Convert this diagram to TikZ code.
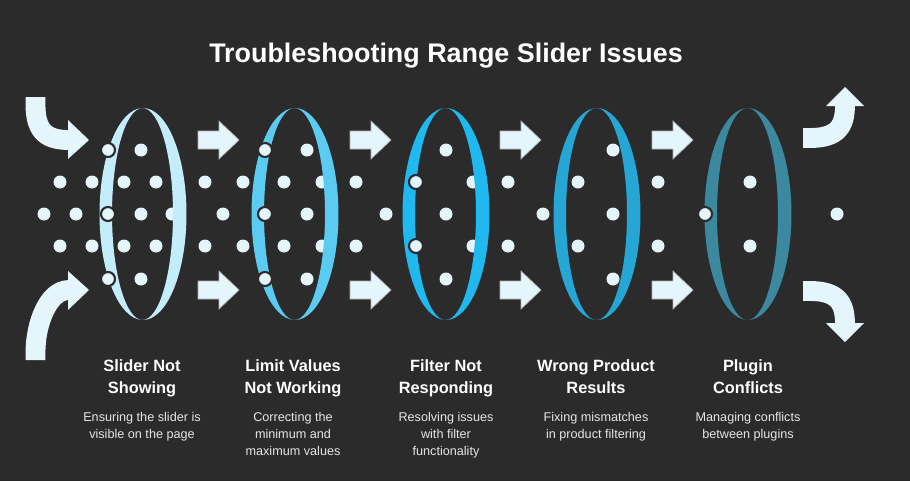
\documentclass[tikz,border=0pt]{standalone}
\usepackage{fontspec}
\setmainfont{Liberation Sans}
\usetikzlibrary{calc}
\definecolor{bg}{HTML}{2B2B2B}
\definecolor{dotc}{HTML}{E4F5FC}
\definecolor{ringA}{HTML}{C4EDFB}
\definecolor{ringB}{HTML}{5CCBF1}
\definecolor{ringC}{HTML}{1FB9EF}
\definecolor{ringD}{HTML}{25A6D5}
\definecolor{ringE}{HTML}{3B889F}
\tikzset{
  dot/.style={fill=dotc},
  odot/.style={fill=dotc,draw=bg,line width=1.2pt},
  blockarrow/.style={fill=dotc,draw=gray!60,line width=.4pt},
  bendarrow/.style={draw=dotc,line width=11.3pt},
  head/.style={font=\bfseries\fontsize{9.3}{12.5}\selectfont,text=white,align=center},
  desc/.style={font=\fontsize{7.2}{9.7}\selectfont,text=white!90!black,align=center}
}
\begin{document}
\begin{tikzpicture}[x=0.02cm,y=-0.02cm]
  \fill[bg] (0,0) rectangle (910,481);
  \useasboundingbox (0,0) rectangle (910,481);
  \node[font=\bfseries\fontsize{15.3}{17}\selectfont,text=white] (title) at (446,56) {Troubleshooting Range Slider Issues};
  % Punkte
  \foreach \x/\y in {141/150,60/182,92/182,124/182,156/182,44/214,76/214,141/214,172/214,
    60/246,92/246,124/246,156/246,141/279,205/182,243/182,223/214,205/246,243/246,
    307/150,284/182,322/182,307/214,284/246,322/246,307/279,356/182,386/214,356/246,
    446/150,473/182,446/214,473/246,446/279,508/182,543/214,508/246,
    613/150,578/182,613/214,578/246,613/279,658/182,658/246,750/182,750/246,837/214}
    \fill[dot] (\x,\y) circle[radius=0.13cm];
  % Ringe
  \foreach \cx/\col in {143/ringA,295/ringB,446/ringC,597/ringD,748/ringE}
    \fill[\col,even odd rule] (\cx,214) ellipse[x radius=0.87cm,y radius=2.12cm]
      ([xshift=-0.01cm]\cx,214) ellipse[x radius=0.61cm,y radius=2.12cm];
  \foreach \x/\y in {108/150,108/214,108/279,265/150,265/214,265/279,416/182,416/246,705/214}
    \draw[odot] (\x,\y) circle[radius=0.14cm];
  % gerade Pfeile
  \foreach \x in {198,350,500,652}
    \foreach \y in {140,290}
      \draw[blockarrow] (\x,\y-9) -- (\x+21,\y-9) -- (\x+21,\y-19) -- (\x+41,\y) -- (\x+21,\y+19)
        -- (\x+21,\y+9) -- (\x,\y+9) -- cycle;
  % gebogene Pfeile
  \draw[bendarrow] (35.5,97) -- (35.5,105) .. controls (35.5,133) and (48,140) .. (69,140);
  \fill[dotc] (68,120) -- (89,140) -- (68,159) -- cycle;
  \draw[bendarrow] (35.5,360) -- (35.5,352) .. controls (35.5,324) and (48,290) .. (69,290);
  \fill[dotc] (68,271) -- (89,290) -- (68,310) -- cycle;
  \draw[bendarrow] (803,138) -- (810,138) .. controls (838,138) and (845,126) .. (845,105);
  \fill[dotc] (826,106) -- (845,87) -- (864,106) -- cycle;
  \draw[bendarrow] (803,291) -- (810,291) .. controls (838,291) and (845,303) .. (845,324);
  \fill[dotc] (826,323) -- (845,342) -- (864,323) -- cycle;
  % Texte
  \foreach \cx/\h/\d [count=\i] in {
    142/{Slider Not\\Showing}/{Ensuring the slider is\\visible on the page},
    293/{Limit Values\\Not Working}/{Correcting the\\minimum and\\maximum values},
    446/{Filter Not\\Responding}/{Resolving issues\\with filter\\functionality},
    596/{Wrong Product\\Results}/{Fixing mismatches\\in product filtering},
    748/{Plugin\\Conflicts}/{Managing conflicts\\between plugins}} {
    \node[head,anchor=north] (lab\i) at (\cx,353) {\h};
    \node[desc,anchor=north] (txt\i) at (\cx,406) {\d};
  }
\end{tikzpicture}
\end{document}
